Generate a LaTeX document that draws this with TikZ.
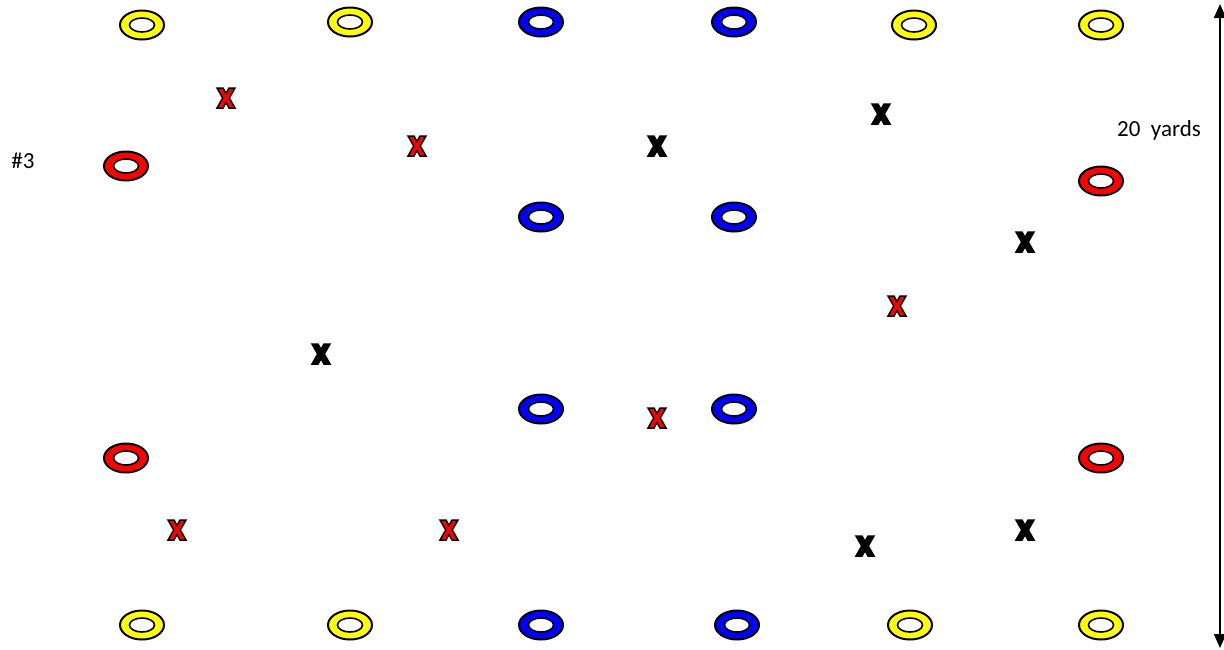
\documentclass[tikz,border=0pt]{standalone}
\usepackage{fontspec}
\setmainfont{Carlito}
\usetikzlibrary{shapes.geometric,arrows.meta}
\definecolor{coneyellow}{RGB}{255,255,0}
\definecolor{coneblue}{RGB}{0,0,255}
\definecolor{conered}{RGB}{255,0,0}
\tikzset{
  cone/.style={ellipse,draw=black,line width=2pt,fill=#1,minimum width=44pt,minimum height=29pt,inner sep=0pt,
    path picture={\draw[black,line width=1.6pt,fill=white] (path picture bounding box.center) ellipse [x radius=12.5pt,y radius=7pt];}},
  pics/xmark/.style={code={
    \path[pic actions,line width=1.5pt,line join=miter]
      (-9,-10)--(-3,-10)--(0,-4.5)--(3,-10)--(9,-10)--(3.3,0)--(9,10)--(3,10)--(0,4.5)--(-3,10)--(-9,10)--(-3.3,0)--cycle;}},
  redx/.style={fill=conered,draw=black},
  blackx/.style={fill=black,draw=black},
  lbl/.style={font=\fontsize{23}{27}\selectfont,inner sep=0pt},
}
\begin{document}
\begin{tikzpicture}[x=1pt,y=-1pt]
\useasboundingbox[fill=white] (0,0) rectangle (1224,649);
% top row
\node[cone=coneyellow] (t1) at (142,25) {};
\node[cone=coneyellow] (t2) at (350,22) {};
\node[cone=coneblue] (t3) at (541,22) {};
\node[cone=coneblue] (t4) at (734,22) {};
\node[cone=coneyellow] (t5) at (914,25) {};
\node[cone=coneyellow] (t6) at (1101,25) {};
% red cones
\node[cone=conered] (r1) at (126,166) {};
\node[cone=conered] (r2) at (1101,181) {};
\node[cone=conered] (r3) at (126,458) {};
\node[cone=conered] (r4) at (1101,458) {};
% middle blue
\node[cone=coneblue] (m1) at (541,217) {};
\node[cone=coneblue] (m2) at (734,217) {};
\node[cone=coneblue] (m3) at (541,409) {};
\node[cone=coneblue] (m4) at (734,409) {};
% bottom row
\node[cone=coneyellow] (b1) at (142,625) {};
\node[cone=coneyellow] (b2) at (350,625) {};
\node[cone=coneblue] (b3) at (541,625) {};
\node[cone=coneblue] (b4) at (737,625) {};
\node[cone=coneyellow] (b5) at (910,625) {};
\node[cone=coneyellow] (b6) at (1101,625) {};
% players
\pic[redx] at (226,98) {xmark};
\pic[redx] at (417,146) {xmark};
\pic[blackx] at (657,146) {xmark};
\pic[blackx] at (881,114) {xmark};
\pic[blackx] at (1025,242) {xmark};
\pic[redx] at (897,306) {xmark};
\pic[blackx] at (321,354) {xmark};
\pic[redx] at (657,418) {xmark};
\pic[redx] at (177,530) {xmark};
\pic[redx] at (449,530) {xmark};
\pic[blackx] at (865,546) {xmark};
\pic[blackx] at (1025,530) {xmark};
% labels
\node[lbl] (num) at (23,161) {\#3};
\node[lbl] (yards) at (1159,130) {20\ \ yards};
% dimension arrow
\coordinate (atop) at (1220,4);
\coordinate (abot) at (1220,648);
\draw[line width=2pt,{Triangle[length=14pt,width=12pt]}-{Triangle[length=14pt,width=12pt]}] (atop) -- (abot);
\end{tikzpicture}
\end{document}
